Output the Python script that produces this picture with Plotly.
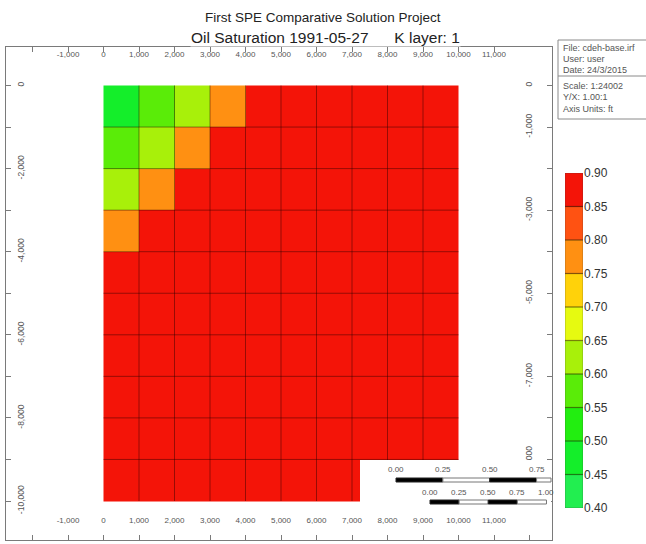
import plotly.graph_objects as go

# ---------------------------------------------------------------- data
# cell centres of the 10 x 10 areal grid, K layer 1 (ft)
x_centres = [500, 1500, 2500, 3500, 4500, 5500, 6500, 7500, 8500, 9500]
y_centres = [-500, -1500, -2500, -3500, -4500, -5500, -6500, -7500, -8500, -9500]
cell_edges_x = [0, 1000, 2000, 3000, 4000, 5000, 6000, 7000, 8000, 9000, 10000]
cell_edges_y = [0, -1000, -2000, -3000, -4000, -5000, -6000, -7000, -8000, -9000, -10000]

# oil saturation per cell, row by row from the top (J = 1 .. 10)
so_row_1 = [0.47, 0.58, 0.63, 0.78, 0.88, 0.88, 0.88, 0.88, 0.88, 0.88]
so_row_2 = [0.58, 0.63, 0.78, 0.88, 0.88, 0.88, 0.88, 0.88, 0.88, 0.88]
so_row_3 = [0.63, 0.78, 0.88, 0.88, 0.88, 0.88, 0.88, 0.88, 0.88, 0.88]
so_row_4 = [0.78, 0.88, 0.88, 0.88, 0.88, 0.88, 0.88, 0.88, 0.88, 0.88]
so_row_5 = [0.88, 0.88, 0.88, 0.88, 0.88, 0.88, 0.88, 0.88, 0.88, 0.88]
so_row_6 = [0.88, 0.88, 0.88, 0.88, 0.88, 0.88, 0.88, 0.88, 0.88, 0.88]
so_row_7 = [0.88, 0.88, 0.88, 0.88, 0.88, 0.88, 0.88, 0.88, 0.88, 0.88]
so_row_8 = [0.88, 0.88, 0.88, 0.88, 0.88, 0.88, 0.88, 0.88, 0.88, 0.88]
so_row_9 = [0.88, 0.88, 0.88, 0.88, 0.88, 0.88, 0.88, 0.88, 0.88, 0.88]
so_row_10 = [0.88, 0.88, 0.88, 0.88, 0.88, 0.88, 0.88, 0.88, 0.88, 0.88]
so_rows = [so_row_1, so_row_2, so_row_3, so_row_4, so_row_5,
           so_row_6, so_row_7, so_row_8, so_row_9, so_row_10]

# colour legend: band edges and band colours (low -> high)
band_edges = [0.40, 0.45, 0.50, 0.55, 0.60, 0.65, 0.70, 0.75, 0.80, 0.85, 0.90]
band_colours = ["#22ee50", "#14ee2a", "#22ee10", "#5aec08", "#a8f00a",
                "#e6fa10", "#ffd20a", "#ff9012", "#ff5212", "#f41408"]

# axis annotation values (ft)
x_tick_positions = [-2000, -1000, 0, 1000, 2000, 3000, 4000, 5000, 6000,
                    7000, 8000, 9000, 10000, 11000, 12000]
x_labelled = [-1000, 0, 1000, 2000, 3000, 4000, 5000, 6000, 7000, 8000,
              9000, 10000, 11000]
y_tick_positions = [0, -1000, -2000, -3000, -4000, -5000, -6000, -7000,
                    -8000, -9000, -10000]
y_labelled_left = [0, -2000, -4000, -6000, -8000, -10000]
y_labelled_right = [0, -1000, -3000, -5000, -7000, -9000]

# scale bar divisions
mile_marks = [0.00, 0.25, 0.50, 0.75, 1.00]
km_marks = [0.00, 0.25, 0.50, 0.75, 1.00]
FT_PER_MILE = 5280.0
FT_PER_KM = 3280.84

title_line_1 = "First SPE Comparative Solution Project"
title_line_2 = "Oil Saturation 1991-05-27\u00a0\u00a0\u00a0\u00a0\u00a0\u00a0K layer: 1"
info_top = ["File: cdeh-base.irf", "User: user", "Date: 24/3/2015"]
info_bottom = ["Scale: 1:24002", "Y/X: 1.00:1", "Axis Units: ft"]

# ---------------------------------------------------------------- layout helpers
W, H = 646, 544


def px(x):
    return x / W


def py(y):
    return 1 - y / H


FRAME_L, FRAME_R, FRAME_T, FRAME_B = 6, 552, 47, 540
X0_PX, X_PX_PER_FT = 103.5, 35.5 / 1000.0
Y0_PX, Y_PX_PER_FT = 85.5, 41.55 / 1000.0
x_range = [(FRAME_L - X0_PX) / X_PX_PER_FT, (FRAME_R - X0_PX) / X_PX_PER_FT]
y_range = [-(FRAME_B - Y0_PX) / Y_PX_PER_FT, -(FRAME_T - Y0_PX) / Y_PX_PER_FT]


def ft_x_to_px(x):
    return X0_PX + x * X_PX_PER_FT


def fmt(v):
    return f"{v:,}"


colorscale = []
n_bands = len(band_colours)
for i, c in enumerate(band_colours):
    colorscale.append([i / n_bands, c])
    colorscale.append([(i + 1) / n_bands, c])

FONT = "Liberation Sans, Arial, sans-serif"
AX_COLOR = "#7a7a7a"
LBL_COLOR = "#555555"

fig = go.Figure()

# saturation grid
fig.add_trace(go.Heatmap(
    x=x_centres, y=y_centres, z=so_rows,
    zmin=band_edges[0], zmax=band_edges[-1],
    colorscale=colorscale, showscale=False,
    xaxis="x", yaxis="y", hoverinfo="skip",
))

# carriers for the mirrored axes
fig.add_trace(go.Scatter(x=[], y=[], xaxis="x2", yaxis="y", showlegend=False))
fig.add_trace(go.Scatter(x=[], y=[], xaxis="x", yaxis="y2", showlegend=False))

# colour legend drawn as a one-column heatmap
band_mids = [(a + b) / 2 for a, b in zip(band_edges[:-1], band_edges[1:])]
fig.add_trace(go.Heatmap(
    x=[0.5], y=band_mids, z=[[m] for m in band_mids],
    zmin=band_edges[0], zmax=band_edges[-1],
    colorscale=colorscale, showscale=False,
    xaxis="x3", yaxis="y3", hoverinfo="skip",
))

shapes = []
# cell outlines
for xe in cell_edges_x[1:-1]:
    shapes.append(dict(type="line", xref="x", yref="y", x0=xe, x1=xe,
                       y0=cell_edges_y[0], y1=cell_edges_y[-1],
                       line=dict(color="rgba(40,0,0,0.45)", width=1)))
for ye in cell_edges_y[1:-1]:
    shapes.append(dict(type="line", xref="x", yref="y", y0=ye, y1=ye,
                       x0=cell_edges_x[0], x1=cell_edges_x[-1],
                       line=dict(color="rgba(40,0,0,0.45)", width=1)))

# legend band separators and outline
for e in band_edges[1:-1]:
    shapes.append(dict(type="line", xref="x3", yref="y3", x0=0, x1=1, y0=e, y1=e,
                       line=dict(color="rgba(30,30,0,0.55)", width=1.2)))
shapes.append(dict(type="rect", xref="x3", yref="y3", x0=0, x1=1,
                   y0=band_edges[0], y1=band_edges[-1],
                   line=dict(color="rgba(60,60,60,0.35)", width=1)))

# scale bar panel
shapes.append(dict(type="rect", xref="paper", yref="paper",
                   x0=px(360), x1=px(FRAME_R - 1), y0=py(506), y1=py(460),
                   fillcolor="white", line=dict(width=0), layer="above"))

annotations = []


def label(x, y, text, size, color=LBL_COLOR, xanchor="center", **kw):
    annotations.append(dict(x=px(x), y=py(y), xref="paper", yref="paper",
                            xanchor=xanchor, yanchor="middle", text=text,
                            showarrow=False,
                            font=dict(size=size, color=color, family=FONT), **kw))


def scale_bar(marks, ft_per_unit, x_start_px, bar_y_px, label_y_px):
    x_start_ft = (x_start_px - X0_PX) / X_PX_PER_FT
    x_limit = FRAME_R - 1
    for i in range(len(marks) - 1):
        xa = ft_x_to_px(x_start_ft + marks[i] * ft_per_unit)
        xb = min(ft_x_to_px(x_start_ft + marks[i + 1] * ft_per_unit), x_limit)
        if xa >= x_limit:
            break
        black = i % 2 == 0
        shapes.append(dict(type="rect", xref="paper", yref="paper",
                           x0=px(xa), x1=px(xb),
                           y0=py(bar_y_px + 2), y1=py(bar_y_px - 2),
                           fillcolor="black" if black else "white",
                           line=dict(color="#222" if black else "#777", width=1),
                           layer="above"))
    for m in marks:
        xm = ft_x_to_px(x_start_ft + m * ft_per_unit)
        if xm > FRAME_R:
            continue
        label(xm, label_y_px, f"{m:.2f}", 8)


scale_bar(mile_marks, FT_PER_MILE, 396, 480, 469)
scale_bar(km_marks, FT_PER_KM, 430, 502, 492)

# info panel
shapes.append(dict(type="rect", xref="paper", yref="paper",
                   x0=px(558), x1=px(W + 10), y0=py(119), y1=py(40),
                   line=dict(color="#8a8a8a", width=1)))
shapes.append(dict(type="line", xref="paper", yref="paper",
                   x0=px(558), x1=px(W + 10), y0=py(76), y1=py(76),
                   line=dict(color="#8a8a8a", width=1)))
for i, t in enumerate(info_top):
    label(561, 48 + 11 * i, t, 9, xanchor="left")
for i, t in enumerate(info_bottom):
    label(561, 86 + 11.5 * i, t, 9, xanchor="left")

# titles
label(323, 17, title_line_1, 13.5, color="#222")
label(325, 38, title_line_2, 15.5, color="#222", bgcolor="white", borderpad=0)

x_text = [fmt(v) if v in x_labelled else "" for v in x_tick_positions]
yl_text = [fmt(v) if v in y_labelled_left else "" for v in y_tick_positions]
yr_text = [fmt(v) if v in y_labelled_right else "" for v in y_tick_positions]

axis_common = dict(showgrid=False, zeroline=False, showline=True,
                   linecolor=AX_COLOR, linewidth=1, ticks="inside",
                   tickcolor=AX_COLOR, ticklen=5, tickwidth=1,
                   ticklabelposition="inside", fixedrange=True, automargin=False)
x_font = dict(size=8, color=LBL_COLOR, family=FONT)
y_font = dict(size=8.5, color=LBL_COLOR, family=FONT)

fig.update_layout(
    width=W, height=H,
    margin=dict(l=0, r=0, t=0, b=0, pad=0, autoexpand=False),
    paper_bgcolor="white", plot_bgcolor="white", showlegend=False,
    xaxis=dict(domain=[px(FRAME_L), px(FRAME_R)], range=x_range, side="top",
               anchor="y", tickmode="array", tickvals=x_tick_positions,
               ticktext=x_text, ticklabelstandoff=-2, tickfont=x_font,
               **axis_common),
    xaxis2=dict(overlaying="x", range=x_range, side="bottom", anchor="y",
                tickmode="array", tickvals=x_tick_positions, ticktext=x_text,
                ticklabelstandoff=9, tickfont=x_font, **axis_common),
    yaxis=dict(domain=[py(FRAME_B), py(FRAME_T)], range=y_range, side="left",
               anchor="x", tickmode="array", tickvals=y_tick_positions,
               ticktext=yl_text, tickangle=-90, ticklabelstandoff=1,
               tickfont=y_font, **axis_common),
    yaxis2=dict(overlaying="y", range=y_range, side="right", anchor="x",
                tickmode="array", tickvals=y_tick_positions, ticktext=yr_text,
                tickangle=-90, ticklabelstandoff=12, tickfont=y_font,
                **axis_common),
    xaxis3=dict(domain=[px(565), px(583)], range=[0, 1], visible=False,
                fixedrange=True),
    yaxis3=dict(domain=[py(508), py(173)], range=[band_edges[0], band_edges[-1]],
                anchor="x3", side="right", showgrid=False, zeroline=False,
                showline=False, ticks="", tickmode="array", tickvals=band_edges,
                ticktext=[f"{e:.2f}" for e in band_edges], fixedrange=True,
                automargin=False,
                tickfont=dict(size=12, color="#333", family=FONT)),
    shapes=shapes, annotations=annotations,
)

fig.write_html("out.html", config={"displayModeBar": False})
